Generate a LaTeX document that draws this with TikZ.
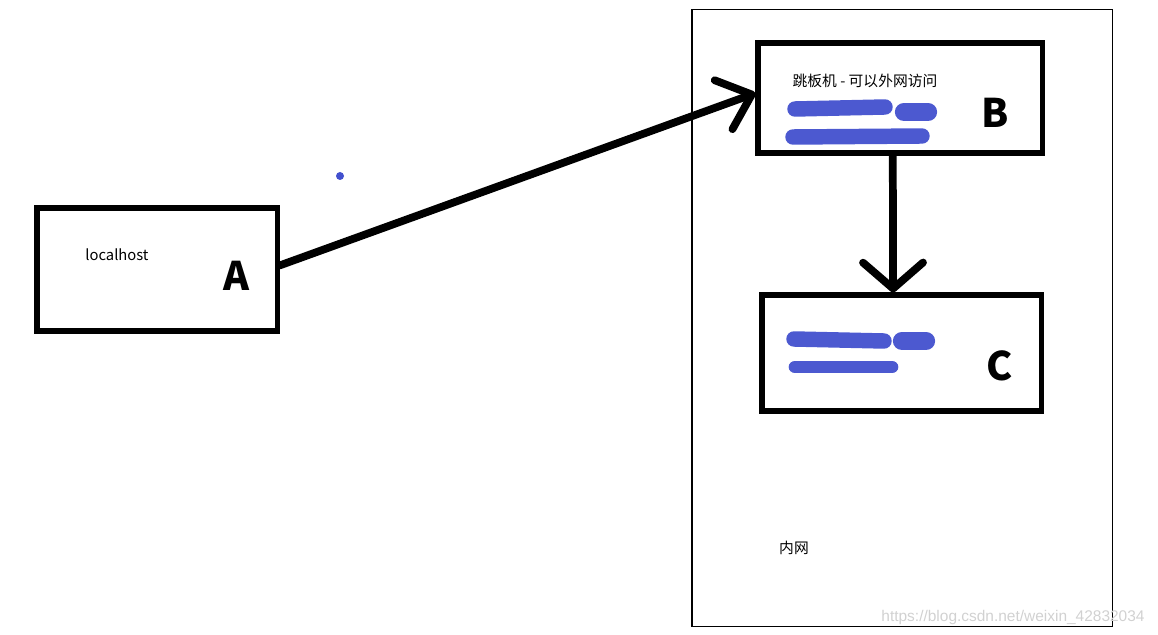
\documentclass[tikz,border=0pt]{standalone}
\usepackage{fontspec}
\setmainfont{Noto Sans CJK SC}
\newfontfamily\markfont{Liberation Sans}
\usetikzlibrary{arrows.meta}

\definecolor{scribble}{RGB}{66,80,206}

\tikzset{
  box/.style={draw,line width=3.6pt,inner sep=0pt},
  bigletter/.style={font=\fontsize{28}{30}\selectfont\bfseries},
  smalltext/.style={font=\fontsize{10.5}{12}\selectfont},
  link/.style={line width=5.5pt,line cap=round,-{Straight Barb[length=7.5mm,width=13mm,round]}},
  redact/.style={scribble,line width=11pt,line cap=round,opacity=0.95}
}

\begin{document}
\begin{tikzpicture}[x=0.025cm,y=-0.025cm]
  \useasboundingbox (0,0) rectangle (1158,635);

  % Inner network frame
  \node[draw,line width=0.8pt,minimum width=10.5cm,minimum height=15.4cm] (lan) at (902,318) {};

  % Boxes
  \node[box,minimum width=6cm,minimum height=3.075cm]    (A) at (157,269.5) {};
  \node[box,minimum width=7.1cm,minimum height=2.75cm]   (B) at (900,98)    {};
  \node[box,minimum width=6.975cm,minimum height=2.9cm]  (C) at (901.5,353) {};

  % Labels
  \node[smalltext] (localtxt) at (117,255) {localhost};
  \node[smalltext] (jumptxt)  at (865,81)  {跳板机 - 可以外网访问};
  \node[smalltext] (lantxt)   at (794,548) {内网};
  \node[bigletter] (Aname) at (236,276) {A};
  \node[bigletter] (Bname) at (995,113) {B};
  \node[bigletter] (Cname) at (1000,366) {C};

  % Redacted lines
  \draw[redact] (795,109) -- (885,107);
  \draw[redact,line width=13pt] (904,112) -- (928,112);
  \draw[redact] (793,137) -- (922,136);
  \draw[redact] (794,339) -- (884,341);
  \draw[redact,line width=13pt] (902,341) -- (926,341);
  \draw[redact,line width=9pt] (795,367) -- (892,367);

  % Stray dot
  \fill[scribble] (340,176) circle (4);

  % Watermark
  \node[font=\markfont\fontsize{11}{13}\selectfont,text=black!18] (mark) at (1013,617) {https://blog.csdn.net/weixin\_42832034};

  % Arrows
  \draw[link] ([yshift=0.1cm]A.east) -- ([yshift=0.12cm]B.west);
  \draw[link,-{Straight Barb[length=6.5mm,width=15mm,round]}] ([xshift=-0.18cm]B.south) -- ([xshift=-0.21cm]C.north);
\end{tikzpicture}
\end{document}
